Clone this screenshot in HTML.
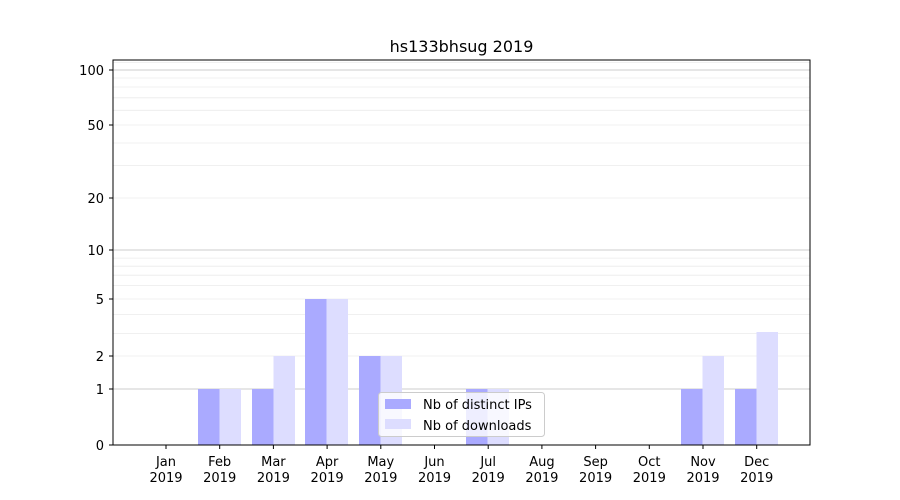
<!DOCTYPE html>
<html><head><meta charset="utf-8"><style>
html,body{margin:0;padding:0;background:#fff;}
svg{display:block;font-family:"DejaVu Sans","Liberation Sans",sans-serif;}
</style></head><body>
<svg width="900" height="500" viewBox="0 0 900 500" xmlns="http://www.w3.org/2000/svg">
<rect width="900" height="500" fill="#fff"/>
<g stroke="#ebebeb" stroke-width="0.8">
<line x1="113" x2="810" y1="333.4" y2="333.4"/>
<line x1="113" x2="810" y1="314.4" y2="314.4"/>
<line x1="113" x2="810" y1="285.6" y2="285.6"/>
<line x1="113" x2="810" y1="275.2" y2="275.2"/>
<line x1="113" x2="810" y1="266.2" y2="266.2"/>
<line x1="113" x2="810" y1="258.1" y2="258.1"/>
<line x1="113" x2="810" y1="165.4" y2="165.4"/>
<line x1="113" x2="810" y1="143" y2="143"/>
<line x1="113" x2="810" y1="110.3" y2="110.3"/>
<line x1="113" x2="810" y1="97.8" y2="97.8"/>
<line x1="113" x2="810" y1="87" y2="87"/>
<line x1="113" x2="810" y1="78" y2="78"/>
<line x1="113" x2="810" y1="62.5" y2="62.5"/>
<line x1="113" x2="810" y1="356" y2="356"/>
<line x1="113" x2="810" y1="299" y2="299"/>
<line x1="113" x2="810" y1="198" y2="198"/>
<line x1="113" x2="810" y1="125" y2="125"/>
</g>
<g stroke="#cccccc" stroke-width="1">
<line x1="113" x2="810" y1="389" y2="389"/>
<line x1="113" x2="810" y1="250" y2="250"/>
<line x1="113" x2="810" y1="70" y2="70"/>
</g>
<!-- bars -->
<g fill="#aaaaff">
<rect x="198" y="389" width="21.5" height="56"/>
<rect x="252" y="389" width="21.5" height="56"/>
<rect x="305" y="299" width="21.5" height="146"/>
<rect x="359" y="356" width="21.5" height="89"/>
<rect x="466" y="389" width="21.5" height="56"/>
<rect x="681" y="389" width="21.5" height="56"/>
<rect x="735" y="389" width="21.5" height="56"/>
</g>
<g fill="#ddddff">
<rect x="219.5" y="389" width="21.5" height="56"/>
<rect x="273.5" y="356" width="21.5" height="89"/>
<rect x="326.5" y="299" width="21.5" height="146"/>
<rect x="380.5" y="356" width="21.5" height="89"/>
<rect x="487.5" y="389" width="21.5" height="56"/>
<rect x="702.5" y="356" width="21.5" height="89"/>
<rect x="756.5" y="332" width="21.5" height="113"/>
</g>
<rect x="113" y="60" width="697" height="385" fill="none" stroke="#000" stroke-width="1"/>
<!-- y ticks -->
<g stroke="#000" stroke-width="1">
<line x1="109" x2="113" y1="445" y2="445"/>
<line x1="109" x2="113" y1="389" y2="389"/>
<line x1="109" x2="113" y1="356" y2="356"/>
<line x1="109" x2="113" y1="299" y2="299"/>
<line x1="109" x2="113" y1="250" y2="250"/>
<line x1="109" x2="113" y1="198" y2="198"/>
<line x1="109" x2="113" y1="125" y2="125"/>
<line x1="109" x2="113" y1="70" y2="70"/>
</g>
<g font-size="13" text-anchor="end" fill="#000">
<text x="104" y="450">0</text>
<text x="104" y="394">1</text>
<text x="104" y="361">2</text>
<text x="104" y="304">5</text>
<text x="104" y="255">10</text>
<text x="104" y="203">20</text>
<text x="104" y="130">50</text>
<text x="104" y="75">100</text>
</g>
<!-- x ticks -->
<g stroke="#000" stroke-width="1">
<line x1="166" x2="166" y1="445" y2="449"/>
<line x1="219.7" x2="219.7" y1="445" y2="449"/>
<line x1="273.4" x2="273.4" y1="445" y2="449"/>
<line x1="327.1" x2="327.1" y1="445" y2="449"/>
<line x1="380.8" x2="380.8" y1="445" y2="449"/>
<line x1="434.5" x2="434.5" y1="445" y2="449"/>
<line x1="488.2" x2="488.2" y1="445" y2="449"/>
<line x1="541.9" x2="541.9" y1="445" y2="449"/>
<line x1="595.6" x2="595.6" y1="445" y2="449"/>
<line x1="649.3" x2="649.3" y1="445" y2="449"/>
<line x1="703" x2="703" y1="445" y2="449"/>
<line x1="756.7" x2="756.7" y1="445" y2="449"/>
</g>
<g font-size="13" text-anchor="middle" fill="#000">
<text x="166" y="466">Jan</text><text x="166" y="482">2019</text>
<text x="219.7" y="466">Feb</text><text x="219.7" y="482">2019</text>
<text x="273.4" y="466">Mar</text><text x="273.4" y="482">2019</text>
<text x="327.1" y="466">Apr</text><text x="327.1" y="482">2019</text>
<text x="380.8" y="466">May</text><text x="380.8" y="482">2019</text>
<text x="434.5" y="466">Jun</text><text x="434.5" y="482">2019</text>
<text x="488.2" y="466">Jul</text><text x="488.2" y="482">2019</text>
<text x="541.9" y="466">Aug</text><text x="541.9" y="482">2019</text>
<text x="595.6" y="466">Sep</text><text x="595.6" y="482">2019</text>
<text x="649.3" y="466">Oct</text><text x="649.3" y="482">2019</text>
<text x="703" y="466">Nov</text><text x="703" y="482">2019</text>
<text x="756.7" y="466">Dec</text><text x="756.7" y="482">2019</text>
</g>
<text x="461.5" y="52" font-size="16" text-anchor="middle" fill="#000">hs133bhsug 2019</text>
<!-- legend -->
<rect x="378.5" y="392.5" width="166" height="44" rx="3" fill="#fff" fill-opacity="0.8" stroke="#cccccc"/>
<rect x="385" y="399" width="26" height="10" fill="#aaaaff"/>
<rect x="385" y="419" width="26" height="10" fill="#ddddff"/>
<g font-size="13" fill="#000">
<text x="423" y="409">Nb of distinct IPs</text>
<text x="423" y="430">Nb of downloads</text>
</g>
</svg>
</body></html>
